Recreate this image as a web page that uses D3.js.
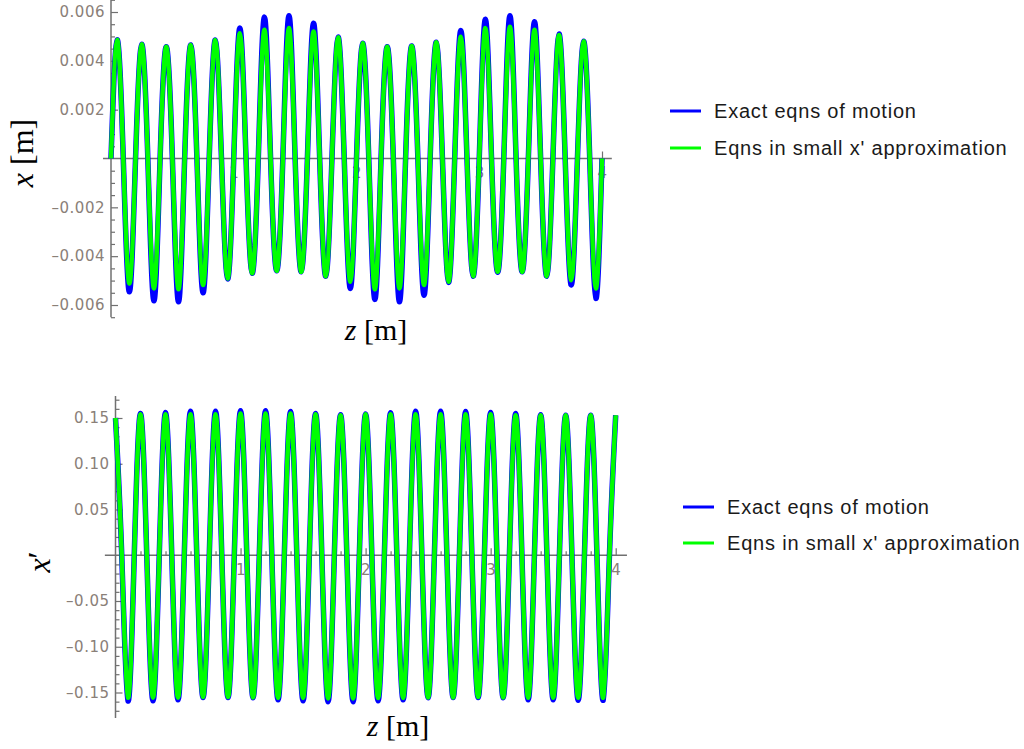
<!DOCTYPE html>
<html><head><meta charset="utf-8">
<script src="https://cdn.jsdelivr.net/npm/d3@7"></script>
<style>body{margin:0;background:#fff}svg{display:block}</style>
</head><body>
<svg id="c" width="1024" height="749"></svg>
<script>
// ---------- DATA ----------
// Top panel: x [m] vs z [m]
const zPeakTop   = [0.05,0.25,0.45,0.65,0.85,1.05,1.25,1.45,1.65,1.85,2.05,2.25,2.45,2.65,2.85,3.05,3.25,3.45,3.65,3.85];
const zTroughTop = [0.15,0.35,0.55,0.75,0.95,1.15,1.35,1.55,1.75,1.95,2.15,2.35,2.55,2.75,2.95,3.15,3.35,3.55,3.75,3.95];
const zZeroTop   = [0,0.1,0.2,0.3,0.4,0.5,0.6,0.7,0.8,0.9,1,1.1,1.2,1.3,1.4,1.5,1.6,1.7,1.8,1.9,2,2.1,2.2,2.3,2.4,2.5,2.6,2.7,2.8,2.9,3,3.1,3.2,3.3,3.4,3.5,3.6,3.7,3.8,3.9,4];
const xExactPeaks    = [0.00486,0.00468,0.00458,0.00465,0.00485,0.00534,0.00579,0.00585,0.00554,0.00497,0.00472,0.00458,0.00461,0.00476,0.00524,0.00570,0.00585,0.00560,0.00510,0.00480];
const xExactTroughs  = [-0.00546,-0.00583,-0.00587,-0.00550,-0.00493,-0.00470,-0.00460,-0.00464,-0.00482,-0.00532,-0.00577,-0.00587,-0.00560,-0.00507,-0.00482,-0.00466,-0.00464,-0.00482,-0.00518,-0.00573];
const xApproxPeaks   = [0.00486,0.00468,0.00458,0.00465,0.00485,0.00513,0.00527,0.00534,0.00520,0.00496,0.00472,0.00458,0.00461,0.00476,0.00499,0.00534,0.00540,0.00527,0.00506,0.00480];
const xApproxTroughs = [-0.00512,-0.00532,-0.00536,-0.00518,-0.00491,-0.00470,-0.00460,-0.00464,-0.00482,-0.00505,-0.00536,-0.00532,-0.00518,-0.00505,-0.00482,-0.00464,-0.00464,-0.00482,-0.00498,-0.00532];

// Bottom panel: x' vs z [m]
const zPeakBot   = [0,0.2,0.4,0.6,0.8,1,1.2,1.4,1.6,1.8,2,2.2,2.4,2.6,2.8,3,3.2,3.4,3.6,3.8,4];
const zTroughBot = [0.1,0.3,0.5,0.7,0.9,1.1,1.3,1.5,1.7,1.9,2.1,2.3,2.5,2.7,2.9,3.1,3.3,3.5,3.7,3.9];
const zZeroBot   = [0.05,0.15,0.25,0.35,0.45,0.55,0.65,0.75,0.85,0.95,1.05,1.15,1.25,1.35,1.45,1.55,1.65,1.75,1.85,1.95,2.05,2.15,2.25,2.35,2.45,2.55,2.65,2.75,2.85,2.95,3.05,3.15,3.25,3.35,3.45,3.55,3.65,3.75,3.85,3.95];
const dxExactPeaks    = [0.150,0.155,0.156,0.1575,0.1575,0.158,0.158,0.157,0.155,0.1535,0.1545,0.1557,0.1575,0.1575,0.157,0.156,0.155,0.1535,0.153,0.153,0.153];
const dxExactTroughs  = [-0.1593,-0.159,-0.158,-0.1555,-0.1555,-0.1557,-0.158,-0.159,-0.160,-0.160,-0.159,-0.158,-0.1557,-0.1555,-0.1555,-0.1557,-0.158,-0.158,-0.1585,-0.1585];
const dxApproxPeaks   = [0.150,0.154,0.154,0.154,0.154,0.155,0.155,0.155,0.154,0.153,0.154,0.154,0.154,0.154,0.154,0.154,0.153,0.153,0.153,0.153,0.153];
const dxApproxTroughs = [-0.1557,-0.1557,-0.1557,-0.155,-0.155,-0.1555,-0.156,-0.156,-0.1565,-0.1565,-0.156,-0.156,-0.1555,-0.1555,-0.155,-0.1555,-0.1557,-0.1557,-0.1557,-0.1557];

// Axis ticks and labels
const xMajorTicks = [1,2,3,4];
const yMajorTop = [-0.006,-0.004,-0.002,0.002,0.004,0.006];
const yMajorBot = [-0.15,-0.10,-0.05,0.05,0.10,0.15];
const seriesNames = ["Exact eqns of motion","Eqns in small x' approximation"];
const seriesColors = ["#0000ff","#00ff00"];

// ---------- DRAWING ----------
const svg = d3.select('#c');
svg.append('rect').attr('width',1024).attr('height',749).attr('fill','#fff');

function build(zPk, vPk, zTr, vTr, zZero){
  const pts = zZero.map(z=>[z,0])
    .concat(zPk.map((z,i)=>[z,vPk[i]]))
    .concat(zTr.map((z,i)=>[z,vTr[i]]));
  return pts.sort((a,b)=>a[0]-b[0]);
}

const AXIS_COL = '#707070';
const LABEL_COL = '#8a8078';

function panel(cfg){
  const g = svg.append('g');
  const x = cfg.x, y = cfg.y;
  const x0 = x(0), y0 = y(0);

  g.append('line').attr('x1',x(cfg.xExt[0])).attr('x2',x(cfg.xExt[1]))
    .attr('y1',y0).attr('y2',y0).attr('stroke',AXIS_COL).attr('stroke-width',1.5);
  g.append('line').attr('x1',x0).attr('x2',x0)
    .attr('y1',y(cfg.yExt[1])).attr('y2',y(cfg.yExt[0])).attr('stroke',AXIS_COL).attr('stroke-width',1.5);

  const styleAxis = sel => {
    sel.select('.domain').remove();
    sel.selectAll('.tick line').attr('stroke',AXIS_COL).attr('stroke-width',1.2);
    sel.selectAll('.tick text').attr('fill',LABEL_COL)
      .style('font-family','"DejaVu Sans", sans-serif').style('font-size','15px')
      .style('letter-spacing','0.5px');
  };

  g.append('g').attr('transform',`translate(${x0},0)`)
    .call(d3.axisLeft(y).tickValues(cfg.yMinor).tickSizeInner(-4).tickSizeOuter(0).tickFormat(''))
    .call(styleAxis);
  g.append('g').attr('transform',`translate(${x0},0)`)
    .call(d3.axisLeft(y).tickValues(cfg.yMajor).tickSizeInner(-7).tickSizeOuter(0).tickPadding(6)
      .tickFormat(d=>(d<0?'\u2013':'')+d3.format(cfg.fmt)(Math.abs(d))))
    .call(styleAxis);
  g.append('g').attr('transform',`translate(0,${y0})`)
    .call(d3.axisBottom(x).tickValues(cfg.xMinor).tickSizeInner(-4).tickSizeOuter(0).tickFormat(''))
    .call(styleAxis);
  g.append('g').attr('transform',`translate(0,${y0})`)
    .call(d3.axisBottom(x).tickValues(xMajorTicks).tickSizeInner(-7).tickSizeOuter(0).tickPadding(9)
      .tickFormat(d3.format('d')))
    .call(styleAxis);

  const line = d3.line().x(d=>x(d[0])).y(d=>y(d[1])).curve(d3.curveNatural);
  g.append('path').datum(cfg.exact).attr('d',line).attr('fill','none')
    .attr('stroke',seriesColors[0]).attr('stroke-width',5.5).attr('stroke-linejoin','round');
  g.append('path').datum(cfg.approx).attr('d',line).attr('fill','none')
    .attr('stroke',seriesColors[1]).attr('stroke-width',4.5).attr('stroke-linejoin','round');

  const lg = g.append('g');
  seriesNames.forEach((n,i)=>{
    const ly = cfg.legY[i];
    lg.append('line').attr('x1',cfg.legX).attr('x2',cfg.legX+31).attr('y1',ly).attr('y2',ly)
      .attr('stroke',seriesColors[i]).attr('stroke-width',3);
    lg.append('text').attr('x',cfg.legX+44).attr('y',ly+7).text(n)
      .attr('fill','#1a1a1a').style('font-family','"Liberation Sans", Arial, sans-serif')
      .style('font-size','20px').style('letter-spacing','0.8px');
  });

  const serif = '"Liberation Serif", "Times New Roman", serif';
  const xt = g.append('text').attr('x',cfg.xTitle[0]).attr('y',cfg.xTitle[1]).attr('text-anchor','middle')
    .style('font-family',serif).style('font-size','30px').attr('fill','#000');
  xt.append('tspan').style('font-style','italic').text('z');
  xt.append('tspan').text(' [m]');
  const yt = g.append('text').attr('transform',`translate(${cfg.yTitle[0]},${cfg.yTitle[1]}) rotate(-90)`)
    .attr('text-anchor','middle').style('font-family',serif).style('font-size',cfg.yTitleSize).attr('fill','#000');
  yt.append('tspan').style('font-style','italic').text('x');
  yt.append('tspan').text(cfg.yTitleRest);
}

const minorX = d3.range(1,20).map(i=>i*0.2).filter(v=>Math.abs(v-Math.round(v))>1e-6);

panel({
  x: d3.scaleLinear([0,4],[111,602]),
  y: d3.scaleLinear([-0.006,0.006],[305,12]),
  xExt:[-0.065,4.08], yExt:[-0.0065,0.0065],
  yMajor: yMajorTop,
  yMinor: d3.range(-13,14).map(i=>i*0.0005).filter(v=>Math.abs(v)>1e-9 && Math.abs(v*500-Math.round(v*500))>1e-6),
  xMinor: minorX,
  fmt: '.3f',
  exact: build(zPeakTop,xExactPeaks,zTroughTop,xExactTroughs,zZeroTop),
  approx: build(zPeakTop,xApproxPeaks,zTroughTop,xApproxTroughs,zZeroTop),
  legX: 670, legY:[111,148],
  xTitle:[376,340], yTitle:[33,153], yTitleRest:' [m]', yTitleSize:'32px'
});

panel({
  x: d3.scaleLinear([0,4],[115.5,615.7]),
  y: d3.scaleLinear([-0.15,0.15],[692.5,418]),
  xExt:[-0.085,4.09], yExt:[-0.178,0.174],
  yMajor: yMajorBot,
  yMinor: d3.range(-17,18).map(i=>i*0.01).filter(v=>Math.abs(v)>1e-9 && Math.abs(v*20-Math.round(v*20))>1e-6),
  xMinor: minorX,
  fmt: '.2f',
  exact: build(zPeakBot,dxExactPeaks,zTroughBot,dxExactTroughs,zZeroBot),
  approx: build(zPeakBot,dxApproxPeaks,zTroughBot,dxApproxTroughs,zZeroBot),
  legX: 683, legY:[507,543],
  xTitle:[398,736], yTitle:[50,562], yTitleRest:'\u2032', yTitleSize:'32px'
});
</script>
</body></html>
